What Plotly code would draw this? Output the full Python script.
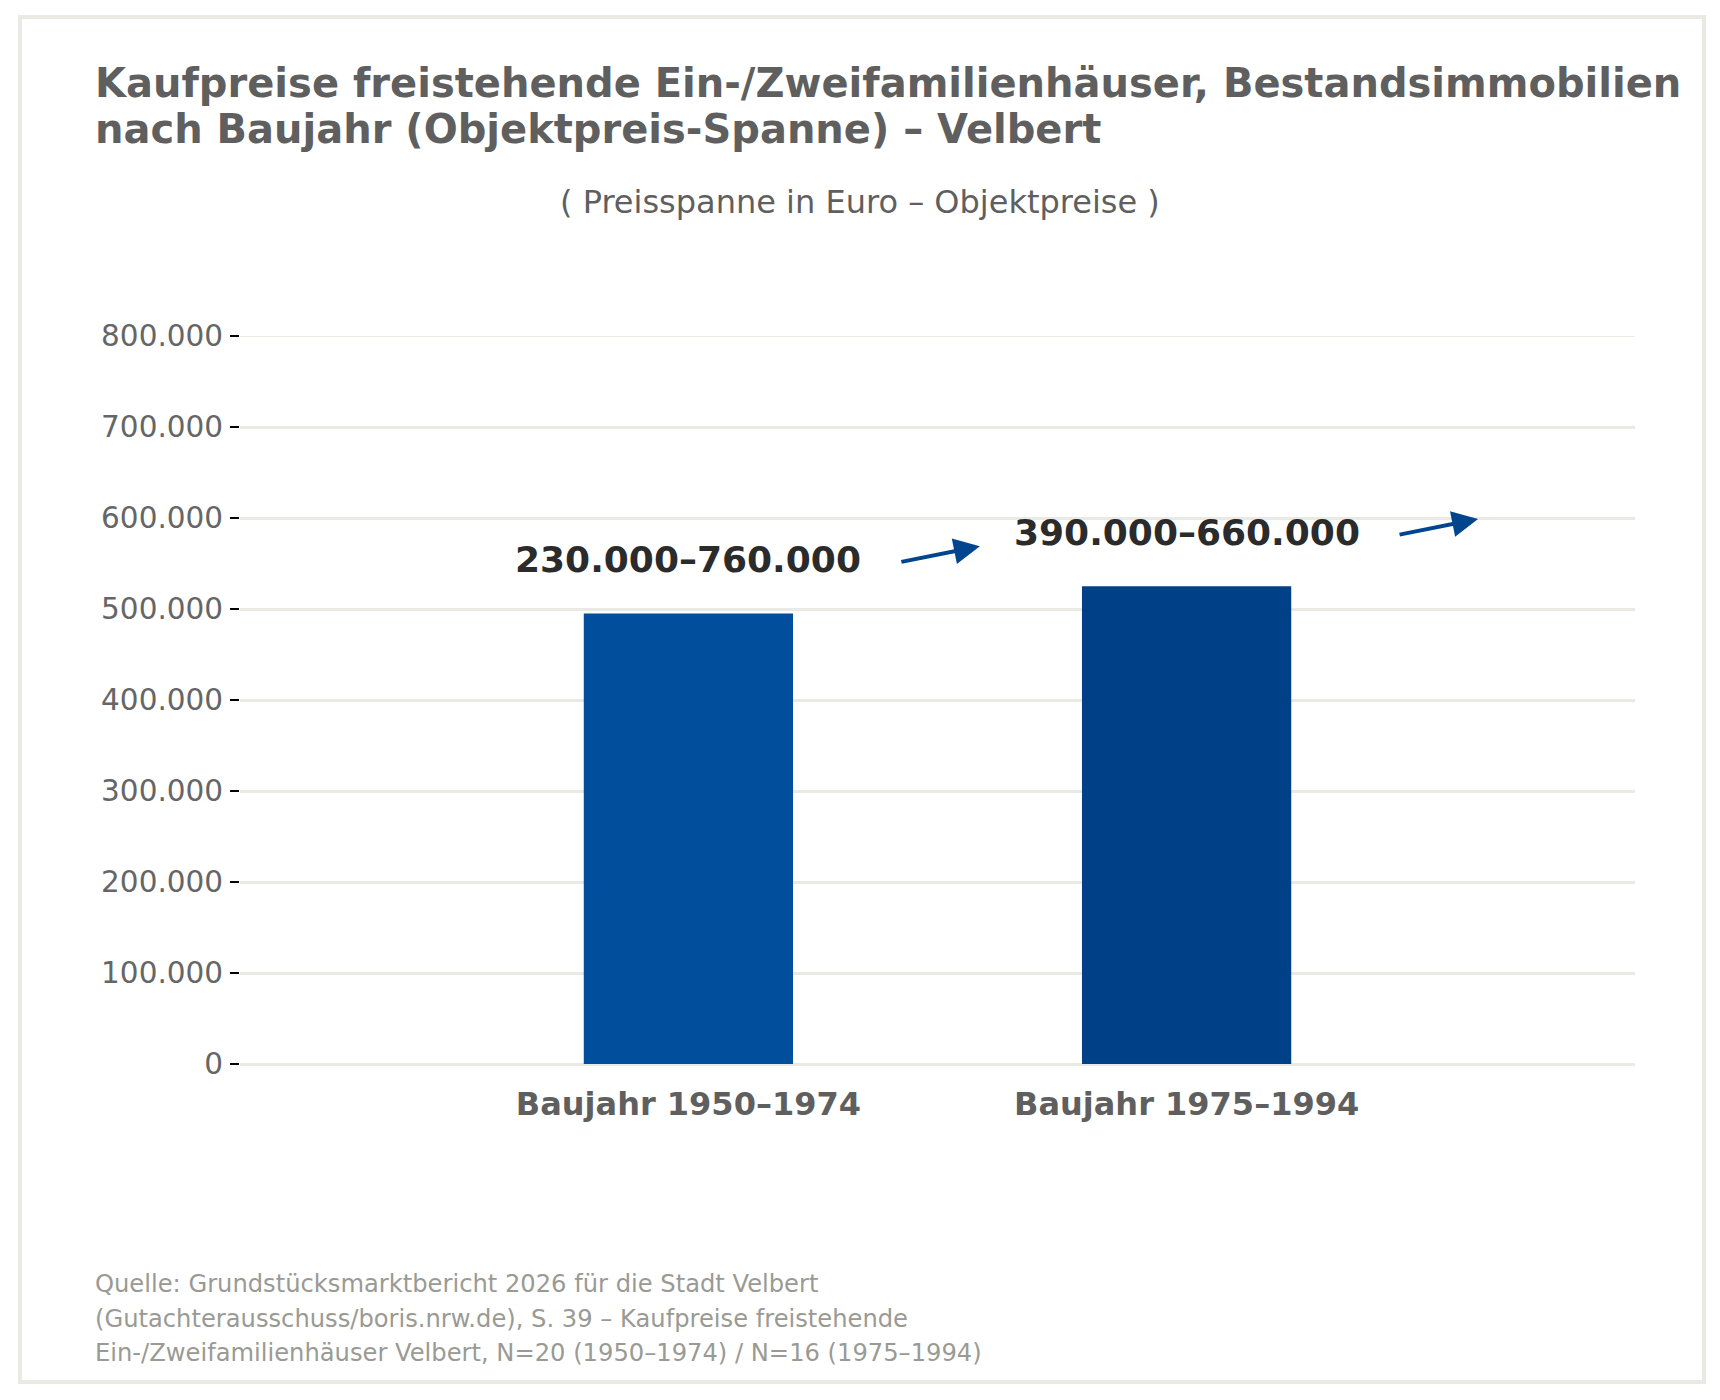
import plotly.graph_objects as go

# data
categories = ["Baujahr 1950–1974", "Baujahr 1975–1994"]
mid_prices = [495000, 525000]
range_labels = ["230.000–760.000", "390.000–660.000"]
bar_colors = ["#004e9c", "#004087"]
y_ticks = [0, 100000, 200000, 300000, 400000, 500000, 600000, 700000, 800000]

title_lines = ["Kaufpreise freistehende Ein-/Zweifamilienhäuser, Bestandsimmobilien",
               "nach Baujahr (Objektpreis-Spanne) – Velbert"]
subtitle = "( Preisspanne in Euro – Objektpreise )"
source_lines = ["Quelle: Grundstücksmarktbericht 2026 für die Stadt Velbert",
                "(Gutachterausschuss/boris.nrw.de), S. 39 – Kaufpreise freistehende",
                "Ein-/Zweifamilienhäuser Velbert, N=20 (1950–1974) / N=16 (1975–1994)"]

# page has an 8px body margin, so the figure is 16px smaller than the window
OFF = 8
W, H = 1720 - 2 * OFF, 1400 - 2 * OFF
L, T = 240 - OFF, 336 - OFF
R = W - (1635 - OFF)
B = H - (1064 - OFF)
pw, ph = W - L - R, H - T - B
FONT = "DejaVu Sans"
GRID = "#ebe9e3"


def fx(px):
    # window pixel -> paper x
    return (px - OFF - L) / pw


def fy(py):
    # window pixel (from top) -> paper y
    return (H - B - (py - OFF)) / ph


fig = go.Figure()
fig.add_trace(go.Bar(x=list(range(len(categories))), y=mid_prices,
                     marker=dict(color=bar_colors, line=dict(width=0)),
                     width=0.42, hoverinfo="skip"))

annotations = []
# title + subtitle
for i, line in enumerate(title_lines):
    annotations.append(dict(text="<b>" + line + "</b>", xref="paper", yref="paper",
                            x=fx(93), y=fy(83 + i * 46), xanchor="left", yanchor="middle",
                            showarrow=False, font=dict(family=FONT, size=40, color="#5f5f5f")))
annotations.append(dict(text=subtitle, xref="paper", yref="paper", x=fx(860), y=fy(202),
                        xanchor="center", yanchor="middle", showarrow=False,
                        font=dict(family=FONT, size=32, color="#5f5f5f")))
# range labels and arrows
for i, (v, lab) in enumerate(zip(mid_prices, range_labels)):
    annotations.append(dict(text="<b>" + lab + "</b>", x=i, y=v, xref="x", yref="y",
                            yanchor="middle", yshift=54, showarrow=False,
                            font=dict(family=FONT, size=36, color="#2b2b2b")))
    annotations.append(dict(text="", x=i + 0.585, y=v + 74000, xref="x", yref="y",
                            ax=-80, ay=16, showarrow=True, arrowhead=2, arrowsize=1.3,
                            arrowwidth=4, arrowcolor="#02458f"))
# source
for i, line in enumerate(source_lines):
    annotations.append(dict(text=line, xref="paper", yref="paper", x=fx(93), y=fy(1284 + i * 34.5),
                            xanchor="left", yanchor="middle", showarrow=False,
                            font=dict(family=FONT, size=24.2, color="#9a9a94")))

fig.update_layout(
    width=W, height=H,
    margin=dict(l=L, r=R, t=T, b=B),
    paper_bgcolor="white", plot_bgcolor="white",
    separators=",.",
    showlegend=False,
    annotations=annotations,
    shapes=[dict(type="rect", xref="paper", yref="paper",
                 x0=fx(20), x1=fx(1704), y0=fy(1382), y1=fy(17),
                 line=dict(color=GRID, width=4), fillcolor="rgba(0,0,0,0)", layer="below"),
            # top gridline sits on the range edge, plotly skips it
            dict(type="line", xref="paper", yref="y", x0=0, x1=1,
                 y0=y_ticks[-1], y1=y_ticks[-1], line=dict(color=GRID, width=2), layer="below")],
)
fig.update_xaxes(range=[-0.9, 1.9], tickmode="array", tickvals=list(range(len(categories))),
                 ticktext=["<b>" + c + "</b>" for c in categories], showgrid=False, zeroline=False,
                 showline=False, ticks="", ticklabelstandoff=18,
                 tickfont=dict(family=FONT, size=32, color="#5f5f5f"))
fig.update_yaxes(range=[0, 800000], tickmode="array", tickvals=y_ticks, tickformat=",.0f",
                 showgrid=True, gridcolor=GRID, gridwidth=3,
                 zeroline=True, zerolinecolor=GRID, zerolinewidth=3, showline=False,
                 ticks="outside", ticklen=9, tickwidth=2, tickcolor="black", ticklabelstandoff=1,
                 tickfont=dict(family=FONT, size=29.5, color="#666666"))

fig.write_html("out.html")
